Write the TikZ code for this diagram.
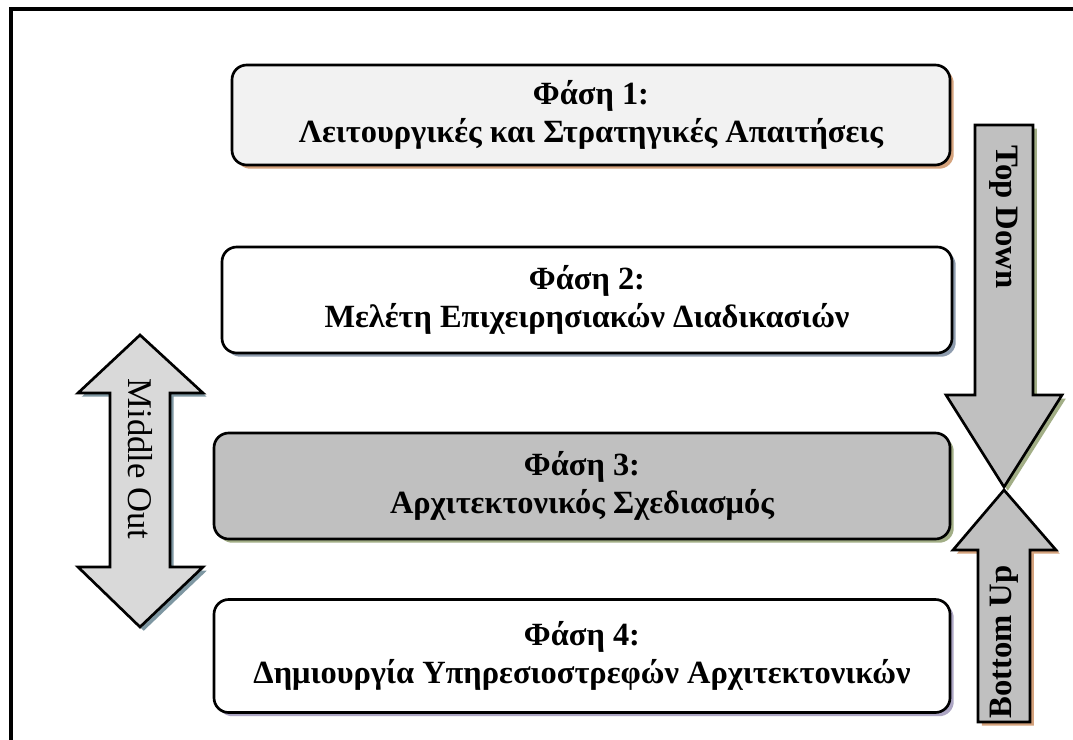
\documentclass[tikz,border=0pt]{standalone}
\usepackage{fontspec}
\setmainfont{Liberation Serif}
\usetikzlibrary{shadows}

\definecolor{tanshadow}{HTML}{D4A27C}
\definecolor{blueshadow}{HTML}{8E9CAE}
\definecolor{greenshadow}{HTML}{A2AE86}
\definecolor{lilacshadow}{HTML}{ADA6C4}
\definecolor{slateshadow}{HTML}{7E97A2}
\definecolor{lightfill}{HTML}{F2F2F2}
\definecolor{midfill}{HTML}{C0C0C0}
\definecolor{palefill}{HTML}{D9D9D9}

\tikzset{
  phasebox/.style={draw=black, line width=2pt, rounded corners=11pt,
    align=center, inner sep=0pt,
    font=\fontsize{24.3}{28.5}\selectfont\bfseries},
  shade tan/.style={general shadow={shadow xshift=2.8pt, shadow yshift=-2.8pt, fill=tanshadow}},
  shade blue/.style={general shadow={shadow xshift=2.8pt, shadow yshift=-2.8pt, fill=blueshadow}},
  shade green/.style={general shadow={shadow xshift=2.8pt, shadow yshift=-2.8pt, fill=greenshadow}},
  shade lilac/.style={general shadow={shadow xshift=2.8pt, shadow yshift=-2.8pt, fill=lilacshadow}},
  shade slate/.style={general shadow={shadow xshift=2.8pt, shadow yshift=-2.8pt, fill=slateshadow}},
  bigarrow/.style={draw=black, line width=2pt, line join=miter},
  arrowlabel/.style={inner sep=0pt, font=\fontsize{24.5}{28}\selectfont\bfseries},
}

\begin{document}
\begin{tikzpicture}[x=0.75pt, y=-0.75pt]
\useasboundingbox (0,0) rectangle (1073,739);
\fill[white] (0,0) rectangle (1073,739);

% outer frame (runs past the right and bottom edges)
\begin{scope}
  \clip (0,0) rectangle (1073,739);
  \draw[line width=2.4pt] (11,9) rectangle (1090,760);
\end{scope}

% phase boxes
\node[phasebox, shade tan, fill=lightfill, minimum width=538.5pt, minimum height=75pt]
  (p1) at (591,115) {Φάση 1:\\Λειτουργικές και Στρατηγικές Απαιτήσεις};
\node[phasebox, shade blue, fill=white, minimum width=547.5pt, minimum height=79.5pt]
  (p2) at (587,300) {Φάση 2:\\Μελέτη Επιχειρησιακών Διαδικασιών};
\node[phasebox, shade green, fill=midfill, minimum width=552pt, minimum height=79.5pt]
  (p3) at (582,486) {Φάση 3:\\Αρχιτεκτονικός Σχεδιασμός};
\node[phasebox, shade lilac, fill=white, minimum width=552pt, minimum height=84.75pt]
  (p4) at (582,656) {Φάση 4:\\Δημιουργία Υπηρεσιοστρεφών Αρχιτεκτονικών};

% Top Down arrow
\path[bigarrow, shade green, fill=midfill]
  (975,125) -- (1033,125) -- (1033,395) -- (1062,395) -- (1004,487)
  -- (946,395) -- (975,395) -- cycle;
\node[arrowlabel, rotate=-90] (td) at (1004,217) {Top Down};

% Bottom Up arrow
\path[bigarrow, shade tan, fill=midfill]
  (978,722) -- (1030,722) -- (1030,550) -- (1056,550) -- (1004,490)
  -- (953,550) -- (978,550) -- cycle;
\node[arrowlabel, rotate=90] (bu) at (1004,642) {Bottom Up};

% Middle Out double arrow
\path[bigarrow, shade slate, fill=palefill]
  (140,335) -- (203,393) -- (170,393) -- (170,567) -- (203,567) -- (140,627)
  -- (78,567) -- (110,567) -- (110,393) -- (78,393) -- cycle;
\node[inner sep=0pt, font=\fontsize{26}{28}\selectfont, rotate=-90] (mo) at (140,459) {Middle Out};
\end{tikzpicture}
\end{document}
